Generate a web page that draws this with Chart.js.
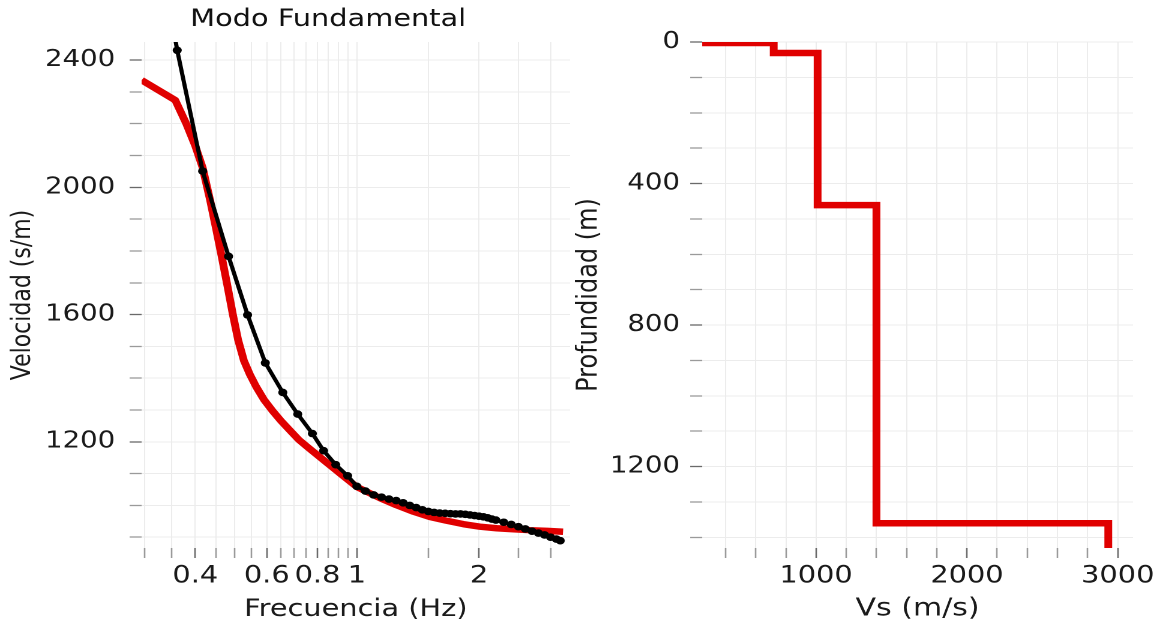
<!DOCTYPE html>
<html>
<head>
<meta charset="utf-8">
<script src="https://cdn.jsdelivr.net/npm/chart.js@4.4.1/dist/chart.umd.min.js"></script>
<style>
  html, body { margin:0; padding:0; background:#ffffff; }
  body { width:1161px; height:630px; position:relative; overflow:hidden; }
  .wrap { position:absolute; top:0; height:630px; transform:scaleX(1.2); transform-origin:0 0; }
</style>
</head>
<body>
<div class="wrap" style="left:0px;width:547px;"><canvas id="cL" width="547" height="630"></canvas></div>
<div class="wrap" style="left:575px;width:488px;"><canvas id="cR" width="488" height="630"></canvas></div>
<script>
// ---------- Left chart data: dispersion curve (Modo Fundamental) ----------
const freqObserved = [0.352, 0.361, 0.417, 0.483, 0.538, 0.595, 0.657, 0.715, 0.777, 0.828, 0.887, 0.949, 1.0,
  1.05, 1.1, 1.15, 1.2, 1.25, 1.3, 1.35, 1.4, 1.45, 1.5, 1.55, 1.6, 1.65, 1.7, 1.75, 1.8, 1.85, 1.9, 1.95, 2.0,
  2.05, 2.1, 2.15, 2.2, 2.3, 2.4, 2.5, 2.6, 2.7, 2.8, 2.9, 3.0, 3.1, 3.17];
const velObserved = [2510, 2431, 2051, 1783, 1599, 1448, 1355, 1287, 1226, 1172, 1128, 1093, 1060,
  1045, 1033, 1026, 1020, 1015, 1008, 1000, 993, 986, 981, 978, 976, 975, 974, 973, 973, 972, 970, 968, 966,
  964, 961, 957, 954, 947, 940, 933, 926, 919, 913, 907, 900, 894, 889];

const freqModel = [0.295, 0.357, 0.38, 0.40, 0.417, 0.435, 0.45, 0.465, 0.48, 0.495, 0.51, 0.527, 0.545, 0.565,
  0.59, 0.62, 0.65, 0.685, 0.72, 0.76, 0.8, 0.84, 0.88, 0.92, 0.96, 1.0, 1.07, 1.14, 1.25, 1.38, 1.51, 1.66,
  1.83, 2.01, 2.21, 2.43, 2.67, 2.94, 3.22];
const velModel = [2337, 2274, 2200, 2130, 2062, 1960, 1870, 1780, 1690, 1600, 1520, 1455, 1412, 1373,
  1333, 1297, 1266, 1235, 1206, 1181, 1158, 1136, 1115, 1095, 1076, 1058, 1040, 1023, 1001, 980, 964, 952,
  941, 933, 928, 925, 922, 920, 917];

const freqTicks = [0.3, 0.35, 0.4, 0.45, 0.5, 0.55, 0.6, 0.65, 0.7, 0.75, 0.8, 0.85, 0.9, 0.95, 1, 1.5, 2, 2.5, 3];
const freqLabels = [0.4, 0.6, 0.8, 1, 2];
const velTicks = [900, 1000, 1100, 1200, 1300, 1400, 1500, 1600, 1700, 1800, 1900, 2000, 2100, 2200, 2300, 2400];
const velLabels = [1200, 1600, 2000, 2400];

// ---------- Right chart data: Vs profile ----------
const vsProfile = [245, 719, 719, 1010, 1010, 1400, 1400, 2937, 2937];
const depthProfile = [3, 3, 31, 31, 461, 461, 1360, 1360, 1500];
const vsTicks = [400, 600, 800, 1000, 1200, 1400, 1600, 1800, 2000, 2200, 2400, 2600, 2800, 3000];
const vsLabels = [1000, 2000, 3000];
const depthTicks = [0, 100, 200, 300, 400, 500, 600, 700, 800, 900, 1000, 1100, 1200, 1300, 1400];
const depthLabels = [0, 400, 800, 1200];

const FONT = 'DejaVu Sans';
const RED = '#e00000';
const GRID = '#ececec';

function pts(xs, ys) { return xs.map((x, i) => ({ x: x, y: ys[i] })); }
function setTicks(values) { return function (scale) { scale.ticks = values.map(v => ({ value: v })); }; }
function labelCb(labels) { return function (value) { return labels.includes(value) ? String(value) : ''; }; }
function tickCol(labels) {
  return function (ctx) { return ctx.tick && labels.includes(ctx.tick.value) ? '#6a6a6a' : '#9a9a9a'; };
}

Chart.defaults.font.family = FONT;
Chart.defaults.color = '#1a1a1a';

new Chart(document.getElementById('cL'), {
  type: 'line',
  data: {
    datasets: [
      { label: 'Modelo', data: pts(freqModel, velModel), borderColor: RED, backgroundColor: RED,
        borderWidth: 6.5, pointRadius: 0, tension: 0, borderJoinStyle: 'round', clip: 0, order: 2 },
      { label: 'Observado', data: pts(freqObserved, velObserved), borderColor: '#000000', backgroundColor: '#000000',
        borderWidth: 3.5, pointRadius: 3.8, pointBorderWidth: 0, pointBackgroundColor: '#000000', clip: 0, order: 1 }
    ]
  },
  options: {
    responsive: false, animation: false, devicePixelRatio: 2,
    layout: { padding: { left: 0, right: 0, top: 0, bottom: 0 } },
    plugins: {
      legend: { display: false }, tooltip: { enabled: false },
      title: { display: true, text: 'Modo Fundamental', color: '#111', font: { family: FONT, size: 24, weight: 'normal' },
        padding: { top: 5.5, bottom: 7.7 } }
    },
    scales: {
      x: {
        type: 'logarithmic', min: 0.295, max: 3.35,
        afterBuildTicks: setTicks(freqTicks),
        afterFit: s => { s.height = 82; },
        border: { display: false },
        grid: { color: GRID, lineWidth: 1, drawTicks: true, tickLength: 10, tickColor: tickCol(freqLabels), tickWidth: 1.3 },
        ticks: { autoSkip: false, maxRotation: 0, minRotation: 0, padding: 4, callback: labelCb(freqLabels),
          font: { family: FONT, size: 24 }, color: '#1a1a1a' },
        title: { display: true, text: 'Frecuencia (Hz)', font: { family: FONT, size: 24 }, color: '#1a1a1a', padding: { top: 0, bottom: 6 } }
      },
      y: {
        type: 'linear', min: 866, max: 2457,
        afterBuildTicks: setTicks(velTicks),
        afterFit: s => { s.width = 118; },
        border: { display: false },
        grid: { color: GRID, lineWidth: 1, drawTicks: true, tickLength: 10, tickColor: tickCol(velLabels), tickWidth: 1.3 },
        ticks: { autoSkip: false, padding: 12, callback: labelCb(velLabels), font: { family: FONT, size: 23 }, color: '#1a1a1a' },
        title: { display: true, text: 'Velocidad (s/m)', font: { family: FONT, size: 22 }, color: '#1a1a1a', padding: { top: 6, bottom: 0 } }
      },
      yRight: {
        type: 'linear', position: 'right', display: true, min: 0, max: 1,
        afterFit: s => { s.width = 72; },
        border: { display: false },
        grid: { display: false, drawTicks: false },
        ticks: { display: false }
      }
    }
  }
});

new Chart(document.getElementById('cR'), {
  type: 'line',
  data: {
    datasets: [
      { label: 'Vs', data: pts(vsProfile, depthProfile), borderColor: RED, backgroundColor: RED,
        borderWidth: 6.5, pointRadius: 0, borderJoinStyle: 'miter', borderCapStyle: 'butt', clip: 0 }
    ]
  },
  options: {
    responsive: false, animation: false, devicePixelRatio: 2,
    layout: { padding: { left: 0, right: 23, top: 42, bottom: 0 } },
    plugins: { legend: { display: false }, tooltip: { enabled: false } },
    scales: {
      x: {
        type: 'linear', min: 245, max: 3101,
        afterBuildTicks: setTicks(vsTicks),
        afterFit: s => { s.height = 82; },
        border: { display: false },
        grid: { color: GRID, lineWidth: 1, drawTicks: true, tickLength: 10, tickColor: tickCol(vsLabels), tickWidth: 1.3 },
        ticks: { autoSkip: false, maxRotation: 0, minRotation: 0, padding: 4, callback: labelCb(vsLabels),
          font: { family: FONT, size: 24 }, color: '#1a1a1a' },
        title: { display: true, text: 'Vs (m/s)', font: { family: FONT, size: 25 }, color: '#1a1a1a', padding: { top: 0, bottom: 6 } }
      },
      y: {
        type: 'linear', reverse: true, min: 0, max: 1430,
        afterBuildTicks: setTicks(depthTicks),
        afterFit: s => { s.width = 106; },
        border: { display: false },
        grid: { color: GRID, lineWidth: 1, drawTicks: true, tickLength: 10, tickColor: tickCol(depthLabels), tickWidth: 1.3 },
        ticks: { autoSkip: false, padding: 8.5, callback: labelCb(depthLabels), font: { family: FONT, size: 23 }, color: '#1a1a1a' },
        title: { display: true, text: 'Profundidad (m)', font: { family: FONT, size: 24, lineHeight: 1 }, color: '#1a1a1a', padding: { top: 0, bottom: 0 } }
      }
    }
  }
});
</script>
</body>
</html>
